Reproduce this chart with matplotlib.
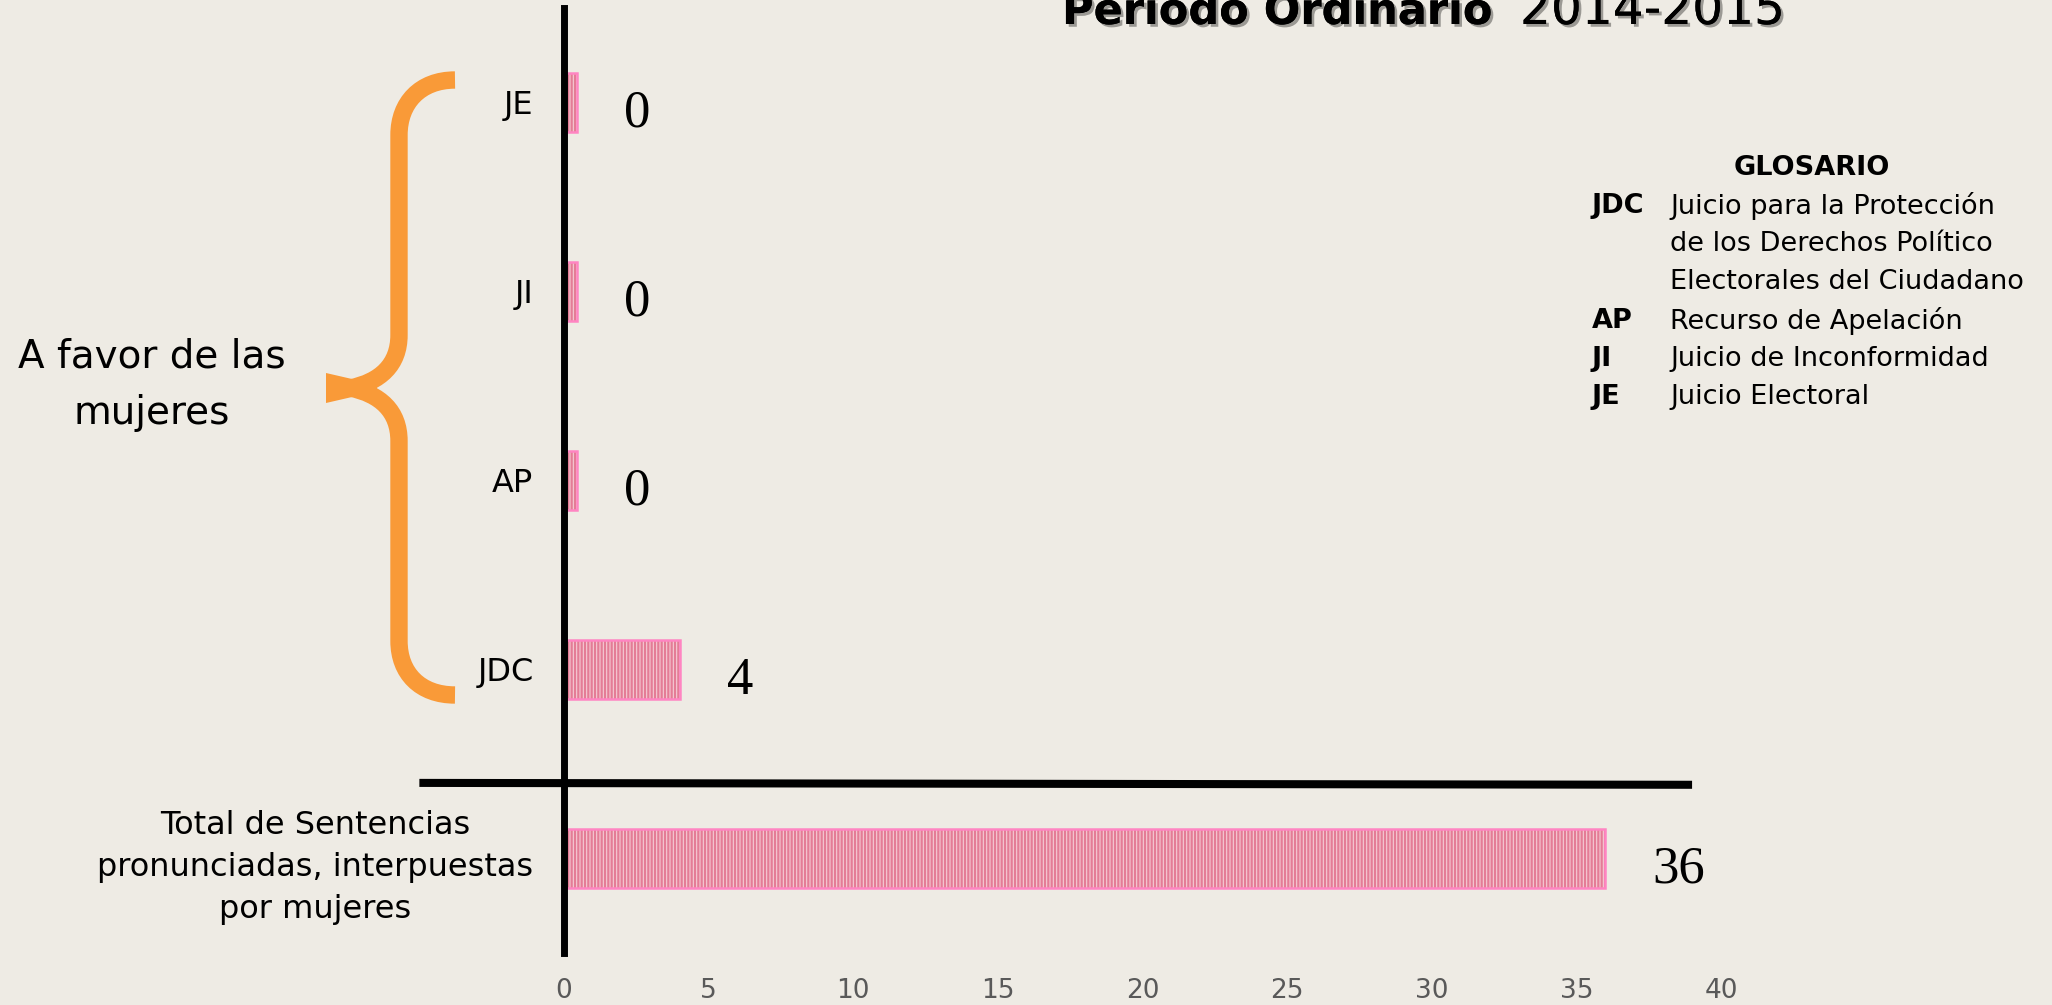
import matplotlib
matplotlib.use("Agg")
import matplotlib.pyplot as plt
import matplotlib.patheffects as pe
from matplotlib.path import Path
from matplotlib.patches import PathPatch, Polygon

# data
categories = ['Total de Sentencias\npronunciadas, interpuestas\npor mujeres',
              'JDC', 'AP', 'JI', 'JE']
values = [36, 4, 0, 0, 0]
x_ticks = [0, 5, 10, 15, 20, 25, 30, 35, 40]

gloss_abbr = ['JDC', '', '', 'AP', 'JI', 'JE']
gloss_text = ['Juicio para la Protección', 'de los Derechos Político',
              'Electorales del Ciudadano', 'Recurso de Apelación',
              'Juicio de Inconformidad', 'Juicio Electoral']

BG = '#EEEBE4'
W, H = 2052, 1005
ZERO_STUB = 0.45   # zero bars still show a thin sliver

plt.rcParams['hatch.linewidth'] = 1.6


def fx(x):
    return x / W


def fy(y):
    return 1 - y / H


fig = plt.figure(figsize=(W / 100, H / 100), dpi=100, facecolor=BG)
ax = fig.add_axes([fx(564), fy(953), (1721 - 564) / W, (953 - 8) / H])
ax.set_facecolor(BG)

ypos = list(range(len(categories)))
widths = [v if v > 0 else ZERO_STUB for v in values]

# striped fill, then pink outline on top
ax.barh(ypos, widths, height=0.31, color='#F5CCD5', edgecolor='#E47C96',
        hatch='|||||', linewidth=0)
ax.barh(ypos, widths, height=0.31, color='none', edgecolor='#FF85C2',
        linewidth=1.8)

for y, v, w in zip(ypos, values, widths):
    ax.annotate(str(v), xy=(w, y), xytext=(34, -8), textcoords='offset points',
                ha='left', va='center', fontsize=38,
                family='Liberation Serif', color='black')

ax.set_xlim(0, 40)
ax.set_ylim(-0.5, 4.5)
ax.set_xticks(x_ticks)
ax.set_xticklabels([str(t) for t in x_ticks], fontsize=19, color='#595959')
ax.set_yticks(ypos)
ax.set_yticklabels(categories, fontsize=23, color='black',
                   multialignment='center', linespacing=1.45)
ax.tick_params(axis='x', length=0, pad=18)
ax.tick_params(axis='y', length=0, pad=22)

for s in ['top', 'right', 'bottom']:
    ax.spines[s].set_visible(False)
ax.spines['left'].set_linewidth(5)
ax.spines['left'].set_color('black')

# separator between total and breakdown
ax.plot([-5, 39], [0.40, 0.39], color='black', lw=5.8,
        solid_capstyle='butt', clip_on=False)

# orange brace
verts = [(455, 80), (420, 80), (399, 103), (399, 135),
         (399, 335),
         (399, 365), (380, 382), (350, 388),
         (326, 388),
         (326, 388), (350, 388),
         (380, 394), (399, 411), (399, 441),
         (399, 641),
         (399, 673), (420, 695), (455, 695)]
codes = [Path.MOVETO, Path.CURVE4, Path.CURVE4, Path.CURVE4,
         Path.LINETO,
         Path.CURVE4, Path.CURVE4, Path.CURVE4,
         Path.LINETO,
         Path.MOVETO, Path.LINETO,
         Path.CURVE4, Path.CURVE4, Path.CURVE4,
         Path.LINETO,
         Path.CURVE4, Path.CURVE4, Path.CURVE4]
brace = Path([(fx(x), fy(y)) for x, y in verts], codes)
fig.add_artist(PathPatch(brace, transform=fig.transFigure, fill=False,
                         edgecolor='#F99A38', lw=12.5, capstyle='butt',
                         joinstyle='round'))
fig.add_artist(Polygon([(fx(x), fy(y)) for x, y in
                        [(326, 373), (352, 379), (366, 388), (352, 397), (326, 403)]],
                       closed=True, transform=fig.transFigure,
                       facecolor='#F99A38', edgecolor='none'))

fig.text(fx(152), fy(385), 'A favor de las\nmujeres', fontsize=28,
         ha='center', va='center', multialignment='center', linespacing=1.6)

# title, cut off at the top edge
shadow = [pe.withSimplePatchShadow(offset=(2, -2), alpha=0.35), pe.Normal()]
fig.text(fx(1492), fy(24), 'Periodo Ordinario', fontsize=31, weight='bold',
         ha='right', va='baseline', path_effects=shadow)
fig.text(fx(1520), fy(24), '2014-2015', fontsize=35,
         ha='left', va='baseline', path_effects=shadow)

# glossary
fig.text(fx(1812), fy(168), 'GLOSARIO', fontsize=19.5, weight='bold',
         ha='center', va='center')
row_y = [206, 244, 282, 321, 359, 397]
for yy, ab, tx in zip(row_y, gloss_abbr, gloss_text):
    if ab:
        fig.text(fx(1592), fy(yy), ab, fontsize=19.5, weight='bold',
                 ha='left', va='center')
    fig.text(fx(1670), fy(yy), tx, fontsize=19.5, ha='left', va='center')

fig.savefig('out.png', dpi=100, facecolor=BG)
